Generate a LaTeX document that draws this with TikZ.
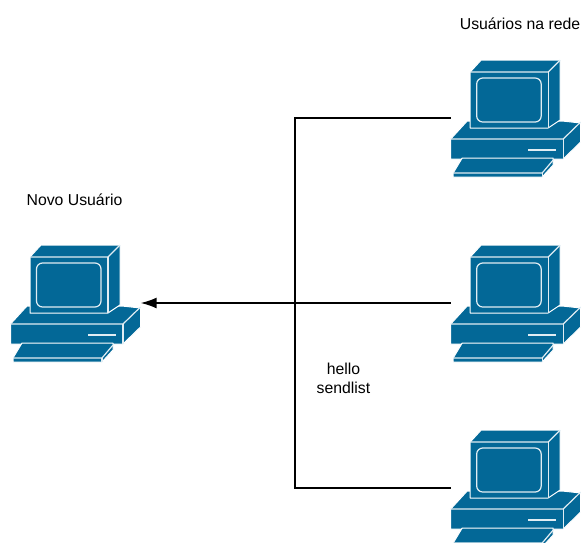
\documentclass[tikz,border=0pt]{standalone}
\usepackage{fontspec}
\usetikzlibrary{arrows.meta}
\setmainfont{Liberation Sans}
\definecolor{pcblue}{HTML}{036897}
\tikzset{
  x=1pt,y=-1pt,
  pcface/.style={fill=pcblue,draw=white,line width=1pt,line join=round},
  pcline/.style={draw=white!88!pcblue,line width=1.2pt},
  wire/.style={draw=black,line width=1.5pt},
  lbl/.style={font=\fontsize{15.8}{18}\selectfont,inner sep=0pt,text=black},
  pcbox/.style={minimum width=130pt,minimum height=118pt,inner sep=0pt},
  pics/pcicon/.style={code={
    % coordinates relative to the icon centre (75.5,303)
    \begin{scope}[shift={(-75.5,-303)}]
    \path[pcface] (27,306) -- (122,306) -- (140.5,308) -- (140.5,327) -- (123,344) -- (10.5,344) -- (10.5,324) -- cycle;
    \draw[pcline] (10.5,324) -- (123,324) -- (140.5,307);
    \draw[pcline] (123,324) -- (123,344);
    \draw[pcline,line width=1.8pt] (88,335) -- (116,335);
    \path[pcface] (22,343) -- (113,343) -- (113,350) -- (102,362) -- (13,362) -- (13,358) -- cycle;
    \draw[pcline] (13,358) -- (102,358) -- (113,345);
    \draw[pcline] (102,358) -- (102,362);
    \path[pcface] (30,257) -- (41,245) -- (120,245) -- (120,305) -- (108,313) -- (30,313) -- cycle;
    \draw[pcline] (30,257) -- (108,257) -- (120,245);
    \draw[pcline] (108,257) -- (108,313);
    \draw[pcline,rounded corners=6pt] (36.5,263) rectangle (101,307);
    \end{scope}
  }}
}
\begin{document}
\begin{tikzpicture}
\useasboundingbox (0,0) rectangle (581,542);
\node[pcbox] (novo) at (75.5,303) {};
\node[pcbox] (r1) at (515.7,118) {};
\node[pcbox] (r2) at (515.7,303) {};
\node[pcbox] (r3) at (515.7,488) {};
\pic at (novo.center) {pcicon};
\pic at (r1.center) {pcicon};
\pic at (r2.center) {pcicon};
\pic at (r3.center) {pcicon};
\coordinate (jt) at (295,118);
\coordinate (jb) at (295,488);
\draw[wire] (r1.west) -- (jt) -- (jb) -- (r3.west);
\draw[wire,-{Latex[length=16pt,width=11pt]}] (r2.west) -- (novo.east);
\node[lbl] (t1) at (520,23.5) {Usuários na rede};
\node[lbl] (t2) at (74.5,200) {Novo Usuário};
\node[lbl] (t3) at (343.5,369) {hello};
\node[lbl] (t4) at (343.5,388) {sendlist};
\end{tikzpicture}
\end{document}
